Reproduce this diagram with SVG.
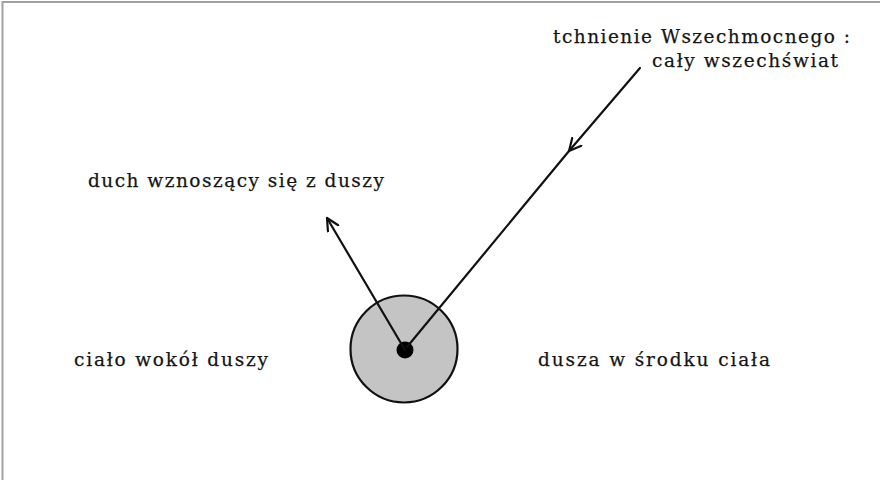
<svg xmlns="http://www.w3.org/2000/svg" width="883" height="480" viewBox="0 0 883 480">
<style>
.t{font-family:"DejaVu Serif","Liberation Serif",serif;font-size:18.5px;fill:#151515;stroke:#151515;stroke-width:0.25;}
.c{stroke:#111;stroke-width:2.2;fill:none;stroke-linecap:round;stroke-linejoin:round;}
</style>
<defs>
<marker id="open" viewBox="0 0 14 14" refX="13" refY="7" markerWidth="14" markerHeight="14" markerUnits="userSpaceOnUse" orient="auto">
<path d="M1,1 L13,7 L1,13" fill="none" stroke="#111" stroke-width="2.2" stroke-linecap="round" stroke-linejoin="round"/>
</marker>
</defs>
<rect width="883" height="480" fill="#fff"/>
<path d="M2.5,480 L2.5,2 L880,2" fill="none" stroke="#a0a0a0" stroke-width="2"/>
<g id="body">
<circle cx="404" cy="349" r="53.5" fill="#c4c4c4" stroke="#111" stroke-width="2.2"/>
</g>
<g id="soul">
<circle cx="405" cy="350" r="8.5" fill="#000"/>
</g>
<g id="connectors">
<line class="c" x1="405" y1="350" x2="327" y2="218" marker-end="url(#open)"/>
<line class="c" x1="640" y1="68" x2="569" y2="151" marker-end="url(#open)"/>
<line class="c" x1="569" y1="151" x2="407" y2="347"/>
</g>
<g id="label-breath">
<text class="t" x="553" y="43" textLength="297" lengthAdjust="spacing">tchnienie Wszechmocnego :</text>
<text class="t" x="652" y="67" textLength="186" lengthAdjust="spacing">cały wszechświat</text>
</g>
<g id="label-spirit">
<text class="t" x="88" y="187" textLength="296" lengthAdjust="spacing">duch wznoszący się z duszy</text>
</g>
<g id="label-bodytext">
<text class="t" x="74" y="366" textLength="194" lengthAdjust="spacing">ciało wokół duszy</text>
</g>
<g id="label-soultext">
<text class="t" x="538" y="366" textLength="232" lengthAdjust="spacing">dusza w środku ciała</text>
</g>
</svg>
